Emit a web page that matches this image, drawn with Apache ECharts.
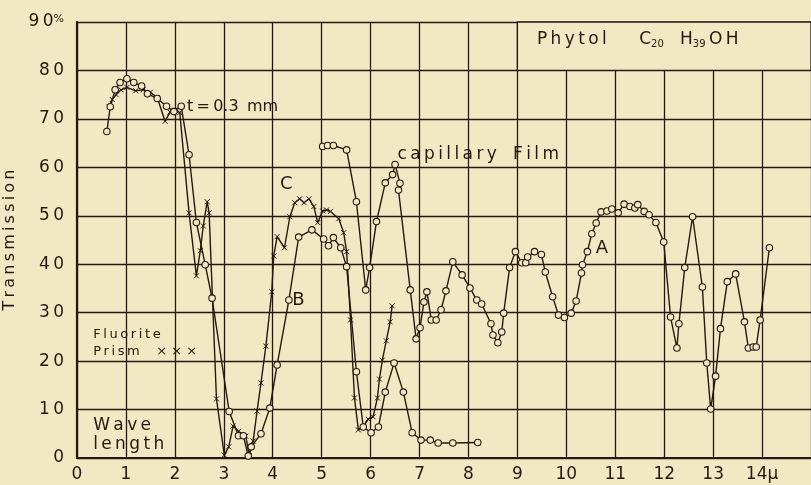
<!DOCTYPE html>
<html lang="en">
<head>
    <meta charset="UTF-8">
    <title>Phytol transmission</title>
    <style>
        html, body { margin: 0; padding: 0; background: #f2e8c3; }
        #chart { width: 811px; height: 485px; }
    </style>
</head>
<body>
    <div id="chart"></div>
    <script src="https://cdn.jsdelivr.net/npm/echarts@6/dist/echarts.min.js"></script>
    <script>
        // wave length (micron) / transmission (%) pairs
        var curveA = [
            [5.02, 64.3], [5.12, 64.5], [5.24, 64.5], [5.51, 63.6], [5.71, 52.9], [5.9, 34.7],
            [5.98, 39.3], [6.12, 48.8], [6.3, 56.8], [6.45, 58.5], [6.5, 60.6], [6.6, 56.7],
            [6.57, 55.3], [6.81, 34.7], [6.93, 24.6], [7.01, 26.9], [7.09, 32.2], [7.15, 34.3],
            [7.24, 28.5], [7.34, 28.5], [7.44, 30.6], [7.54, 34.5], [7.68, 40.5], [7.87, 37.8],
            [8.03, 35.1], [8.17, 32.6], [8.27, 31.8], [8.46, 27.7], [8.5, 25.4], [8.6, 23.8],
            [8.68, 26], [8.72, 29.9], [8.84, 39.3], [8.96, 42.6], [9.09, 40.3], [9.17, 40.3],
            [9.21, 41.5], [9.35, 42.6], [9.49, 42], [9.57, 38.4], [9.72, 33.3], [9.84, 29.5],
            [9.96, 29], [10.1, 29.9], [10.2, 32.4], [10.31, 38.2], [10.33, 39.9], [10.43, 42.6],
            [10.52, 46.3], [10.61, 48.5], [10.71, 50.8], [10.83, 51], [10.93, 51.4], [11.06, 50.6],
            [11.18, 52.4], [11.3, 51.9], [11.4, 51.6], [11.46, 52.3], [11.59, 50.9], [11.69, 50.2],
            [11.83, 48.6], [11.99, 44.6], [12.13, 29.1], [12.26, 22.7], [12.3, 27.7], [12.42, 39.3],
            [12.58, 49.8], [12.78, 35.3], [12.87, 19.6], [12.95, 10.1], [13.05, 16.9], [13.15, 26.7],
            [13.29, 36.4], [13.46, 38], [13.64, 28.1], [13.72, 22.7], [13.82, 22.9], [13.88, 22.9],
            [13.96, 28.5], [14.15, 43.4]
        ];
        var curveB = [
            [0.61, 67.4], [0.68, 72.5], [0.78, 76], [0.88, 77.5], [1.02, 78.3], [1.16, 77.5],
            [1.32, 76.8], [1.44, 75.2], [1.64, 74.2], [1.83, 72.6], [1.98, 71.5], [2.13, 72.6],
            [2.29, 62.6], [2.44, 48.6], [2.62, 39.9], [2.76, 33], [3.11, 9.6], [3.3, 4.6],
            [3.4, 4.6], [3.5, 0.4], [3.56, 2.3], [3.76, 5], [3.94, 10.3], [4.09, 19.2],
            [4.33, 32.6], [4.53, 45.6], [4.8, 47.1], [5.04, 45.2], [5.14, 43.8], [5.24, 45.5],
            [5.39, 43.4], [5.51, 39.5], [5.71, 17.8], [5.85, 6.4], [6.01, 5.2], [6.16, 6.4],
            [6.3, 13.6], [6.48, 19.6], [6.67, 13.6], [6.85, 5.2], [7.03, 3.7], [7.22, 3.7],
            [7.38, 3.1], [7.68, 3.1], [8.19, 3.2]
        ];
        var curveC = [
            [0.66, 72.5], [0.72, 74], [0.8, 75], [0.9, 76], [1.02, 76.5], [1.2, 75.8],
            [1.35, 76], [1.5, 75.5], [1.64, 74.4], [1.8, 69.5], [1.9, 71.4], [2.0, 71.8],
            [2.1, 71.3], [2.29, 50.6], [2.44, 37.6], [2.52, 42.8], [2.58, 47.9], [2.66, 52.9],
            [2.7, 50.6], [2.85, 12.2], [3.01, 0.6], [3.1, 2.3], [3.19, 6.6], [3.3, 5.5],
            [3.45, 4.5], [3.52, 0.5], [3.6, 3.5], [3.68, 9.7], [3.76, 15.5], [3.86, 23.1],
            [3.98, 34.3], [4.02, 41.7], [4.09, 45.7], [4.24, 43.4], [4.35, 49.8], [4.45, 52.7],
            [4.55, 53.5], [4.64, 52.7], [4.74, 53.5], [4.84, 51.9], [4.92, 48.6], [5.02, 51],
            [5.1, 51.2], [5.18, 50.9], [5.35, 49.4], [5.45, 46.5], [5.51, 42.6], [5.59, 28.5],
            [5.67, 12.4], [5.75, 5.8], [5.85, 6.5], [5.95, 8], [6.05, 8.5], [6.14, 12.4],
            [6.18, 16.3], [6.24, 20.2], [6.32, 24.2], [6.4, 28.1], [6.44, 31.4]
        ];
        var xTickLabels = ['0', '1', '2', '3', '4', '5', '6', '7', '8', '9', '10', '11', '12', '13', '14μ'];
        var yTickLabels = ['0', '10', '20', '30', '40', '50', '60', '70', '80', '90'];

        var ink = '#241a10';
        var paper = '#f2e8c3';
        var font = 'DejaVu Sans';

        var myChart = echarts.init(document.getElementById('chart'));

        // the plate is lettered with wide spacing
        function spaced(s) {
            return s.split('').join('\u2009');
        }

        function note(x, y, text, size) {
            return {
                coord: [x, y],
                value: text,
                label: { fontSize: size || 16 }
            };
        }

        var circleStyle = { color: paper, borderColor: ink, borderWidth: 1.1 };

        var option = {
            backgroundColor: paper,
            animation: false,
            grid: { left: 77, right: 0, top: 22, bottom: 27, outerBoundsMode: 'none', containLabel: false },
            xAxis: {
                type: 'value',
                min: 0,
                max: 15,
                interval: 1,
                axisLine: { show: true, lineStyle: { color: ink, width: 2.2 } },
                axisTick: { show: false },
                splitLine: { show: true, lineStyle: { color: ink, width: 1.3 } },
                axisLabel: {
                    color: ink, fontSize: 17, fontFamily: font, margin: 8,
                    formatter: function (v) { return xTickLabels[v] || ''; }
                }
            },
            yAxis: {
                type: 'value',
                min: 0,
                max: 90,
                interval: 10,
                name: spaced('Transmission'),
                nameLocation: 'middle',
                nameGap: 50,
                nameTextStyle: { color: ink, fontSize: 16, fontFamily: font },
                axisLine: { show: true, lineStyle: { color: ink, width: 2.2 } },
                axisTick: { show: false },
                splitLine: { show: true, lineStyle: { color: ink, width: 1.3 } },
                axisLabel: {
                    color: ink, fontSize: 17, fontFamily: font, margin: 13,
                    formatter: function (v) {
                        var t = spaced(yTickLabels[v / 10]);
                        return v === 90 ? t + '{p|%}' : t;
                    },
                    rich: { p: { fontSize: 11, color: ink, verticalAlign: 'top', fontFamily: font } }
                }
            },
            series: [
                {
                    name: 'A',
                    type: 'line',
                    data: curveA,
                    symbol: 'circle',
                    symbolSize: 6.5,
                    itemStyle: circleStyle,
                    lineStyle: { color: ink, width: 1.4 },
                    z: 3,
                    markArea: {
                        silent: true,
                        itemStyle: { color: paper, borderColor: ink, borderWidth: 1.3 },
                        data: [[{ coord: [9, 80] }, { coord: [15.2, 90.6] }]]
                    },
                    markPoint: {
                        silent: true,
                        symbol: 'circle',
                        symbolSize: 1,
                        itemStyle: { color: 'rgba(0,0,0,0)' },
                        label: {
                            show: true,
                            position: 'inside',
                            align: 'left',
                            verticalAlign: 'middle',
                            color: ink,
                            fontFamily: font,
                            formatter: function (p) { return p.value; },
                            rich: {
                                s: { fontSize: 10, color: ink, fontFamily: font, verticalAlign: 'bottom', padding: [9, 0, 0, 0] }
                            }
                        },
                        data: [
                            note(9.4, 86.3, spaced('Phytol') + '      C{s|20}   H{s|39}\u2009O\u2009H', 17),
                            note(2.25, 72.4, 't\u2009=\u20090.3\u2009 mm', 16),
                            note(6.55, 62.7, spaced('capillary') + '   ' + spaced('Film'), 17),
                            note(4.15, 56.4, 'C', 18),
                            note(4.4, 32.5, 'B', 18),
                            note(10.6, 43.3, 'A', 18),
                            note(0.33, 25.4, spaced('Fluorite'), 13),
                            note(0.33, 21.9, spaced('Prism') + '    × × ×', 13),
                            note(0.33, 6.6, spaced('Wave'), 17),
                            note(0.33, 2.8, spaced('length'), 17)
                        ]
                    }
                },
                {
                    name: 'B',
                    type: 'line',
                    data: curveB,
                    symbol: 'circle',
                    symbolSize: 6.5,
                    itemStyle: circleStyle,
                    lineStyle: { color: ink, width: 1.4 },
                    z: 3
                },
                {
                    name: 'C',
                    type: 'line',
                    data: curveC,
                    symbol: 'path://M0,0L10,10M0,10L10,0',
                    symbolSize: 5,
                    itemStyle: { color: ink, borderColor: ink, borderWidth: 1 },
                    lineStyle: { color: ink, width: 1.4 },
                    z: 2
                }
            ]
        };
        myChart.setOption(option);
    </script>
</body>
</html>
